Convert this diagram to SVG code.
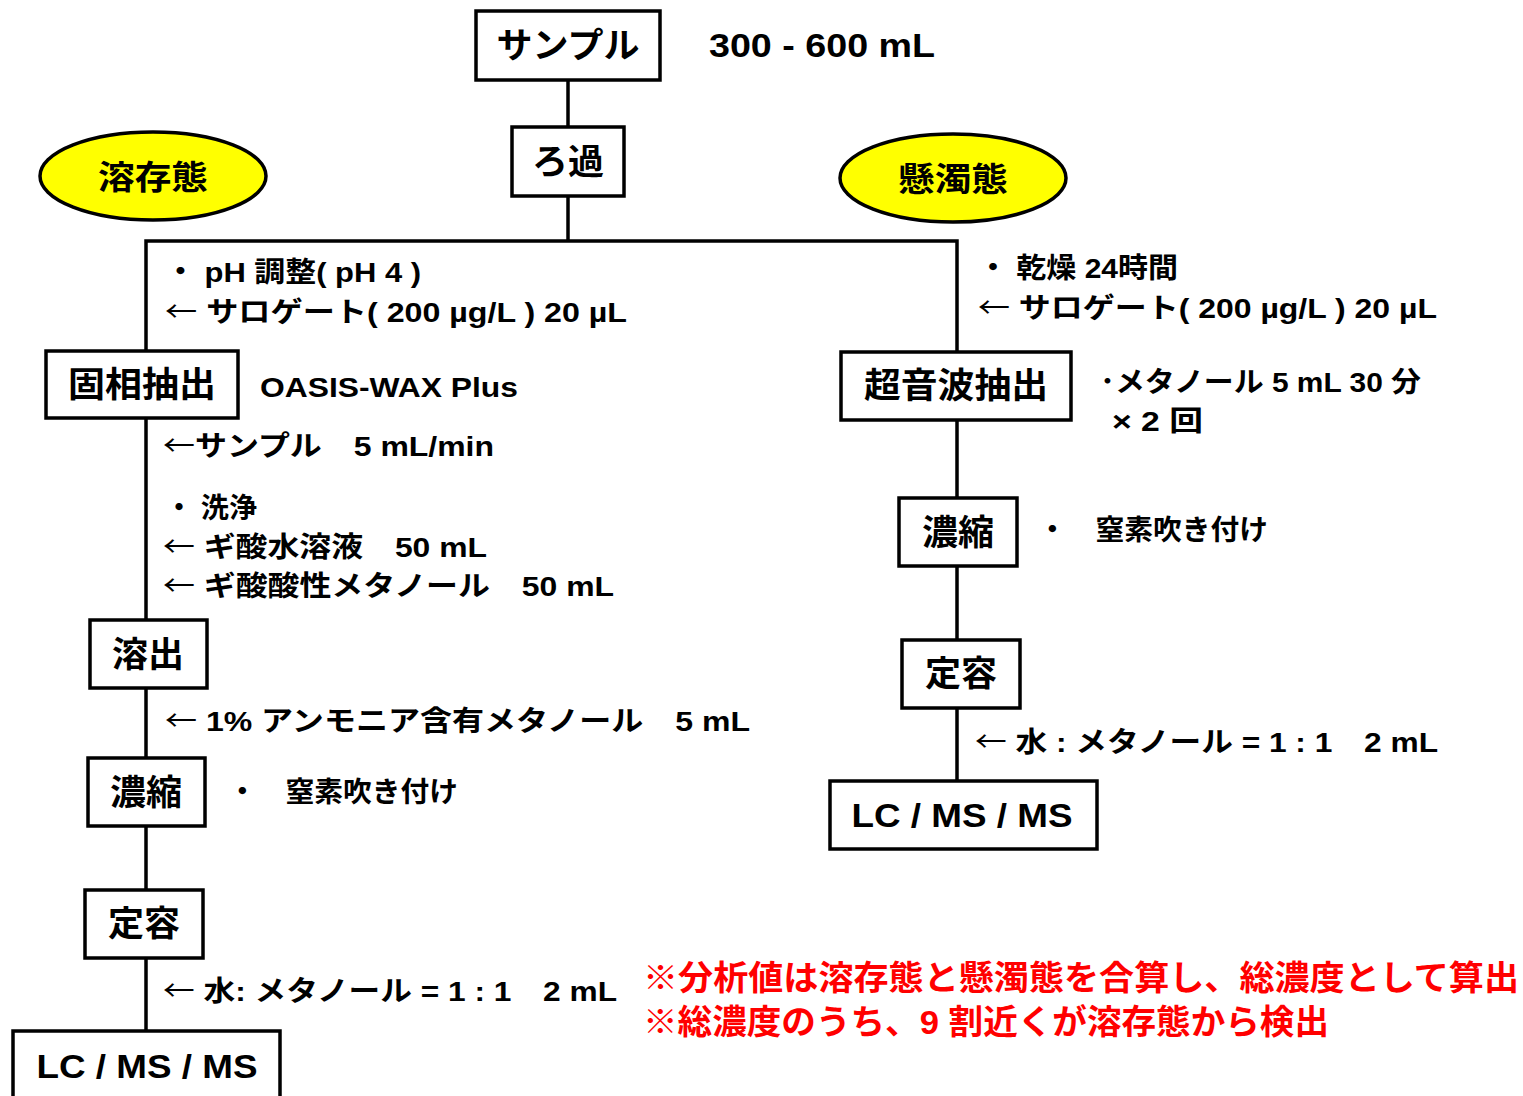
<svg xmlns="http://www.w3.org/2000/svg" width="1523" height="1096" viewBox="0 0 1523 1096">
<style>
text{font-family:"Liberation Sans","Noto Sans CJK JP",sans-serif;font-weight:bold;fill:#000}
.ar{font-family:"Noto Sans CJK JP",sans-serif;font-weight:normal}
.box{fill:#fff;stroke:#000;stroke-width:3.5}
.ell{fill:#ffff00;stroke:#000;stroke-width:3.5}
.ln{stroke:#000;stroke-width:3.5;fill:none}
.bt{font-size:35px;text-anchor:middle}
.nt{font-size:28px}
.red{font-size:34px;fill:#ff0000}
</style>
<rect width="1523" height="1096" fill="#fff"/>
<g id="connectors">
<line class="ln" x1="568" y1="80" x2="568" y2="127"/>
<line class="ln" x1="568" y1="196" x2="568" y2="241"/>
<polyline class="ln" points="146,1031 146,241 957,241 957,781"/>
</g>
<g id="node-sample"><rect class="box" x="476" y="11" width="184" height="69"/><text class="bt" x="568" y="58" textLength="143" lengthAdjust="spacingAndGlyphs">サンプル</text></g>
<text class="nt" x="709" y="57" style="font-size:34px" textLength="226" lengthAdjust="spacingAndGlyphs">300 - 600 mL</text>
<g id="node-filter"><rect class="box" x="512" y="127" width="112" height="69"/><text class="bt" x="568" y="174" textLength="72" lengthAdjust="spacingAndGlyphs">ろ過</text></g>
<g id="node-dissolved"><ellipse class="ell" cx="153" cy="176" rx="113" ry="44"/><text class="bt" x="153" y="189" style="font-size:33px" textLength="110" lengthAdjust="spacingAndGlyphs">溶存態</text></g>
<g id="node-suspended"><ellipse class="ell" cx="953" cy="178" rx="113" ry="44"/><text class="bt" x="953" y="191" style="font-size:33px" textLength="110" lengthAdjust="spacingAndGlyphs">懸濁態</text></g>
<g id="node-spe"><rect class="box" x="46" y="351" width="192" height="67"/><text class="bt" x="142" y="397" textLength="148" lengthAdjust="spacingAndGlyphs">固相抽出</text></g>
<g id="node-elute"><rect class="box" x="90" y="620" width="117" height="68"/><text class="bt" x="148" y="667" textLength="72" lengthAdjust="spacingAndGlyphs">溶出</text></g>
<g id="node-conc-l"><rect class="box" x="88" y="758" width="117" height="68"/><text class="bt" x="146" y="805" textLength="72" lengthAdjust="spacingAndGlyphs">濃縮</text></g>
<g id="node-vol-l"><rect class="box" x="85" y="890" width="118" height="68"/><text class="bt" x="144" y="936" textLength="72" lengthAdjust="spacingAndGlyphs">定容</text></g>
<g id="node-lcms-l"><rect class="box" x="13" y="1031" width="267" height="75"/><text class="bt" x="147" y="1078" style="font-size:34px" textLength="221" lengthAdjust="spacingAndGlyphs">LC / MS / MS</text></g>
<g id="node-ultra"><rect class="box" x="841" y="352" width="230" height="68"/><text class="bt" x="956" y="398" textLength="184" lengthAdjust="spacingAndGlyphs">超音波抽出</text></g>
<g id="node-conc-r"><rect class="box" x="899" y="498" width="118" height="68"/><text class="bt" x="958" y="545" textLength="72" lengthAdjust="spacingAndGlyphs">濃縮</text></g>
<g id="node-vol-r"><rect class="box" x="902" y="640" width="118" height="68"/><text class="bt" x="961" y="686" textLength="72" lengthAdjust="spacingAndGlyphs">定容</text></g>
<g id="node-lcms-r"><rect class="box" x="830" y="781" width="267" height="68"/><text class="bt" x="962" y="827" style="font-size:34px" textLength="221" lengthAdjust="spacingAndGlyphs">LC / MS / MS</text></g>
<g id="notes">
<text class="nt" x="165" y="282" textLength="256" lengthAdjust="spacingAndGlyphs">・ pH 調整( pH 4 )</text>
<text class="nt" x="165" y="322" textLength="462" lengthAdjust="spacingAndGlyphs"><tspan class="ar">←</tspan> サロゲート( 200 µg/L ) 20 µL</text>
<text class="nt" x="260" y="397" textLength="258" lengthAdjust="spacingAndGlyphs">OASIS-WAX Plus</text>
<text class="nt" x="163" y="456" textLength="331" lengthAdjust="spacingAndGlyphs"><tspan class="ar">←</tspan>サンプル　5 mL/min</text>
<text class="nt" x="165" y="518" textLength="92" lengthAdjust="spacingAndGlyphs">・ 洗浄</text>
<text class="nt" x="163" y="557" textLength="324" lengthAdjust="spacingAndGlyphs"><tspan class="ar">←</tspan> ギ酸水溶液　50 mL</text>
<text class="nt" x="163" y="596" textLength="451" lengthAdjust="spacingAndGlyphs"><tspan class="ar">←</tspan> ギ酸酸性メタノール　50 mL</text>
<text class="nt" x="165" y="731" textLength="585" lengthAdjust="spacingAndGlyphs"><tspan class="ar">←</tspan> 1% アンモニア含有メタノール　5 mL</text>
<text class="nt" x="228" y="802" textLength="230" lengthAdjust="spacingAndGlyphs">・　窒素吹き付け</text>
<text class="nt" x="163" y="1001" textLength="454" lengthAdjust="spacingAndGlyphs"><tspan class="ar">←</tspan> 水: メタノール = 1 : 1　2 mL</text>
<text class="nt" x="978" y="278" textLength="200" lengthAdjust="spacingAndGlyphs">・ 乾燥 24時間</text>
<text class="nt" x="978" y="318" textLength="459" lengthAdjust="spacingAndGlyphs"><tspan class="ar">←</tspan> サロゲート( 200 µg/L ) 20 µL</text>
<text class="nt" x="1100" y="392" textLength="321" lengthAdjust="spacingAndGlyphs">･メタノール 5 mL  30 分</text>
<text class="nt" x="1112" y="431" textLength="91" lengthAdjust="spacingAndGlyphs">× 2 回</text>
<text class="nt" x="1038" y="540" textLength="230" lengthAdjust="spacingAndGlyphs">・　窒素吹き付け</text>
<text class="nt" x="975" y="752" textLength="463" lengthAdjust="spacingAndGlyphs"><tspan class="ar">←</tspan> 水 : メタノール = 1 : 1　2 mL</text>
<text class="red" x="643" y="990" textLength="876" lengthAdjust="spacingAndGlyphs">※分析値は溶存態と懸濁態を合算し、総濃度として算出</text>
<text class="red" x="643" y="1034" textLength="686" lengthAdjust="spacingAndGlyphs">※総濃度のうち、9 割近くが溶存態から検出</text>
</g>
</svg>
